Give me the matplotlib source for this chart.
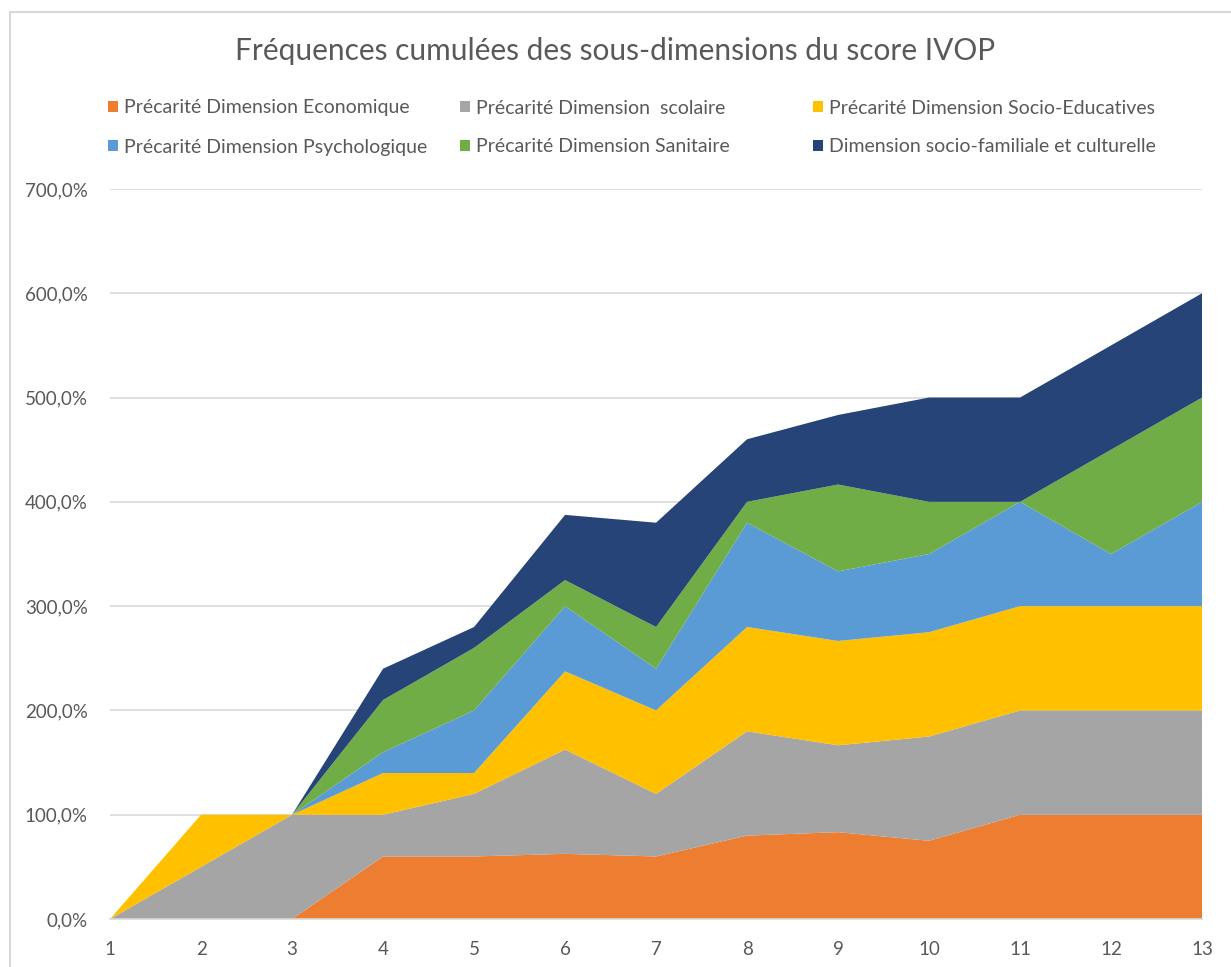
import matplotlib.pyplot as plt
from matplotlib.patches import Rectangle
from matplotlib.ticker import FuncFormatter

plt.rcParams['font.family'] = ['Lato', 'DejaVu Sans']

x = list(range(1, 14))

economique = [0, 0, 0, 60, 60, 62.5, 60, 80, 83.3, 75, 100, 100, 100]
scolaire = [0, 50, 100, 40, 60, 100, 60, 100, 83.3, 100, 100, 100, 100]
socio_educ = [0, 50, 0, 40, 20, 75, 80, 100, 100, 100, 100, 100, 100]
psycho = [0, 0, 0, 20, 60, 62.5, 40, 100, 66.7, 75, 100, 50, 100]
sanitaire = [0, 0, 0, 50, 60, 25, 40, 20, 83.3, 50, 0, 100, 100]
socio_fam = [0, 0, 0, 30, 20, 62.5, 100, 60, 66.7, 100, 100, 100, 100]

labels = ['Précarité Dimension Economique', 'Précarité Dimension  scolaire',
          'Précarité Dimension Socio-Educatives', 'Précarité Dimension Psychologique',
          'Précarité Dimension Sanitaire', 'Dimension socio-familiale et culturelle']
colors = ['#ED7D31', '#A5A5A5', '#FFC000', '#5B9BD5', '#70AD47', '#264478']

fig = plt.figure(figsize=(12.31, 9.67), dpi=100)
ax = fig.add_axes([0.0894, 0.0496, 0.8871, 0.755])

polys = ax.stackplot(x, economique, scolaire, socio_educ, psycho, sanitaire, socio_fam,
                     colors=colors, labels=labels, linewidth=0)

ax.set_xlim(1, 13)
ax.set_ylim(0, 700)
ax.set_xticks(x)
ax.set_yticks(range(0, 701, 100))
ax.yaxis.set_major_formatter(FuncFormatter(lambda v, p: f'{v:.1f}%'.replace('.', ',')))
ax.grid(axis='y', color='#D9D9D9', linewidth=1.2)
ax.set_axisbelow(True)
for s in ['top', 'right', 'left']:
    ax.spines[s].set_visible(False)
ax.spines['bottom'].set_color('#D9D9D9')
ax.spines['bottom'].set_linewidth(1.2)
ax.tick_params(length=0, labelsize=13.5, labelcolor='#595959')
ax.tick_params(axis='x', pad=16)
ax.tick_params(axis='y', pad=16)

fig.text(0.5, 0.947, 'Fréquences cumulées des sous-dimensions du score IVOP',
         ha='center', va='center', fontsize=21.5, color='#595959')

# legend entries placed like Excel's fixed-width columns
col_x = [108, 460, 813]
row_y = [108, 147]
for i, (poly, lab) in enumerate(zip(polys, labels)):
    px = col_x[i % 3] / 1231
    py = 1 - row_y[i // 3] / 967
    fig.legend([poly], [lab], loc='center left', bbox_to_anchor=(px, py),
               frameon=False, fontsize=14, labelcolor='#595959',
               handlelength=0.5, handleheight=0.5, handletextpad=0.3,
               borderpad=0, borderaxespad=0)

fig.patches.append(Rectangle((0.008, -0.1), 1.1, 1.088, transform=fig.transFigure,
                             fill=False, edgecolor='#D9D9D9', linewidth=1.5))

fig.savefig('out.png', dpi=100)
